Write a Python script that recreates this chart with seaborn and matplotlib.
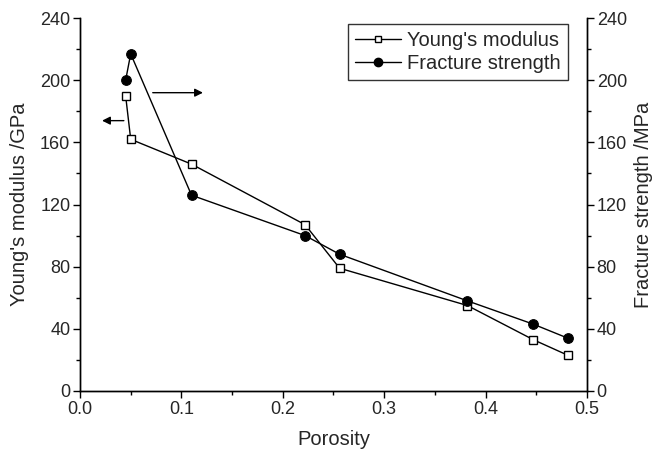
import pandas as pd
import seaborn as sns
import matplotlib.pyplot as plt
from matplotlib.ticker import MultipleLocator
from matplotlib.lines import Line2D

porosity = [0.045, 0.050, 0.110, 0.222, 0.256, 0.382, 0.447, 0.481]
young = [190, 162, 146, 107, 79, 55, 33, 23]
fracture = [200, 217, 126, 100, 88, 58, 43, 34]

df = pd.DataFrame({"Porosity": porosity, "young": young, "fracture": fracture})

sns.set_style("ticks")
plt.rcParams['font.family'] = ['Liberation Sans', 'DejaVu Sans']
plt.rcParams['font.size'] = 14.5

fig = plt.figure(figsize=(6.52, 4.53), dpi=100)
ax = fig.add_axes([0.1227, 0.137, 0.7776, 0.823])
ax2 = ax.twinx()

sns.lineplot(data=df, x="Porosity", y="young", ax=ax, color="black", lw=1,
             marker="s", markersize=6, markerfacecolor="white",
             markeredgecolor="black", markeredgewidth=1)
sns.lineplot(data=df, x="Porosity", y="fracture", ax=ax2, color="black", lw=1,
             marker="o", markersize=7, markerfacecolor="black",
             markeredgecolor="black")

for a in (ax, ax2):
    a.set_ylim(0, 240)
    a.yaxis.set_major_locator(MultipleLocator(40))
    a.yaxis.set_minor_locator(MultipleLocator(20))
    a.tick_params(which="both", direction="out", color="black", width=1,
                  labelsize=13, pad=2)
    a.tick_params(which="major", length=5)
    a.tick_params(which="minor", length=3)
    for s in a.spines.values():
        s.set_color("black")
        s.set_linewidth(1)
    a.spines["top"].set_visible(False)

ax.set_xlim(0, 0.5)
ax.xaxis.set_major_locator(MultipleLocator(0.1))
ax.xaxis.set_minor_locator(MultipleLocator(0.05))
ax.set_xlabel("Porosity", labelpad=9)
ax.set_ylabel("Young's modulus /GPa", labelpad=8)
ax2.set_ylabel("Fracture strength /MPa", labelpad=5)
ax2.spines["right"].set_visible(True)

# direction arrows
ax.annotate("", xy=(0.019, 174), xytext=(0.046, 174),
            arrowprops=dict(arrowstyle="-|>", color="black", lw=1, mutation_scale=12))
ax.annotate("", xy=(0.124, 192), xytext=(0.069, 192),
            arrowprops=dict(arrowstyle="-|>", color="black", lw=1, mutation_scale=12))

handles = [
    Line2D([], [], color="black", lw=1, marker="s", markersize=5,
           markerfacecolor="white", markeredgecolor="black"),
    Line2D([], [], color="black", lw=1, marker="o", markersize=6,
           markerfacecolor="black", markeredgecolor="black"),
]
leg = ax.legend(handles, ["Young's modulus", "Fracture strength"], loc="upper right",
                bbox_to_anchor=(0.9625, 0.984), frameon=True, fancybox=False,
                handlelength=2.3, handletextpad=0.3, borderpad=0.35,
                labelspacing=0.2, borderaxespad=0)
leg.get_frame().set_edgecolor("black")
leg.get_frame().set_linewidth(1)
if ax2.get_legend():
    ax2.get_legend().remove()

fig.savefig("out.png", dpi=100)
